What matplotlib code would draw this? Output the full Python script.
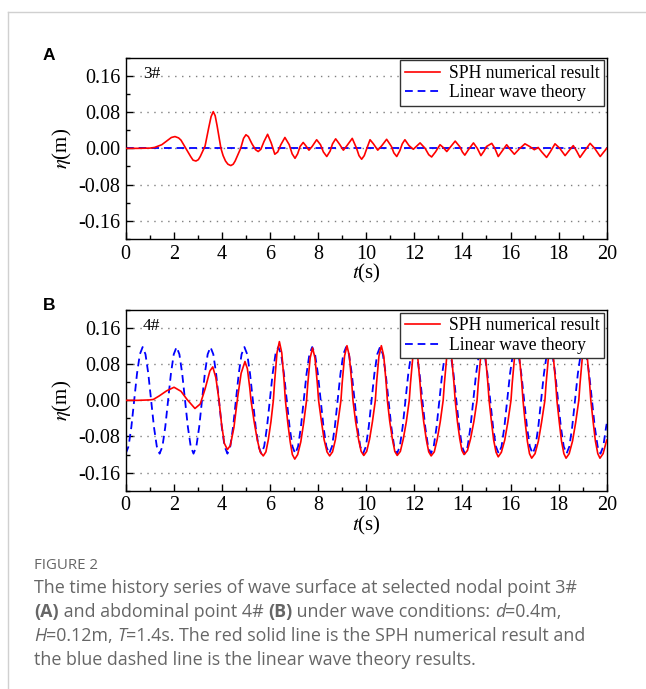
import matplotlib
matplotlib.use("Agg")
import matplotlib.pyplot as plt
from matplotlib.font_manager import FontProperties
from matplotlib.lines import Line2D

plt.rcParams['font.family'] = 'Liberation Serif'
plt.rcParams['mathtext.fontset'] = 'stix'

W, H = 646, 689

# ---- panel A: nodal point 3# ----
sph3_t = [0.0, 0.5, 1.0, 1.2, 1.5, 1.75, 1.9, 2.05, 2.2, 2.3, 2.5, 2.7, 2.8,
          2.92, 3.02, 3.1, 3.3, 3.45, 3.55, 3.64, 3.72, 3.8, 3.96, 4.05, 4.15, 4.25,
          4.37, 4.47, 4.55, 4.65,
          4.78, 4.9, 5.0, 5.1, 5.25, 5.4, 5.51, 5.62, 5.75, 5.9,
          6.05, 6.2, 6.32, 6.45, 6.62, 6.8, 6.92, 7.04, 7.15, 7.25,
          7.38, 7.5, 7.62, 7.75, 7.94, 8.1, 8.22, 8.36, 8.5, 8.6,
          8.73, 8.88, 9.05, 9.2, 9.42, 9.6, 9.7, 9.81, 9.92, 10.0,
          10.16, 10.3, 10.48, 10.65, 10.85, 11.05, 11.15, 11.27, 11.4, 11.5,
          11.61, 11.78, 11.96, 12.1, 12.24, 12.45, 12.6, 12.72, 12.88, 13.07,
          13.2, 13.35, 13.5, 13.7, 13.9, 14.0, 14.1, 14.25, 14.46, 14.62,
          14.77, 14.9, 15.0, 15.22, 15.35, 15.49, 15.65, 15.84, 16.0, 16.16,
          16.35, 16.6, 16.8, 16.99, 17.15, 17.3, 17.5, 17.65, 17.85, 18.05,
          18.27, 18.45, 18.61, 18.75, 18.89, 19.05, 19.31, 19.5, 19.73, 19.85,
          20.0]
sph3_eta = [0.0, 0.0, 0.0005, 0.002, 0.008, 0.018, 0.024, 0.026, 0.023, 0.018, 0.0, -0.018, -0.026,
            -0.028, -0.025, -0.018, 0.005, 0.045, 0.07, 0.081, 0.072, 0.05, 0.0, -0.016, -0.028, -0.035,
            -0.038, -0.035, -0.028, -0.016,
            0.0, 0.022, 0.03, 0.026, 0.01, -0.003, -0.007, -0.002, 0.015, 0.031,
            0.012, -0.013, -0.008, 0.008, 0.024, 0.008, -0.012, -0.022, -0.012, 0.004,
            0.013, 0.005, -0.004, 0.004, 0.019, 0.008, -0.008, -0.018, -0.006, 0.01,
            0.021, 0.01, -0.004, 0.006, 0.022, 0.0, -0.016, -0.024, -0.016, -0.004,
            0.019, 0.01, -0.004, 0.006, 0.02, 0.004, -0.01, -0.018, -0.005, 0.01,
            0.019, 0.006, -0.002, 0.005, 0.012, 0.0, -0.014, -0.019, -0.008, 0.008,
            0.002, -0.007, 0.003, 0.016, 0.003, -0.008, -0.015, -0.003, 0.012, 0.0,
            -0.016, -0.006, 0.004, 0.011, 0.0, -0.018, -0.006, 0.008, -0.003, -0.013,
            -0.002, 0.01, 0.004, -0.003, 0.002, -0.008, -0.02, -0.008, 0.01, 0.0,
            -0.016, -0.004, 0.006, -0.006, -0.02, -0.008, 0.011, 0.0, -0.018, -0.01,
            0.0]
lin3_t = [0.0, 20.0]
lin3_eta = [0.0, 0.0]

# ---- panel B: abdominal point 4# ----
sph4_t = [0.0, 0.5, 1.0, 1.15, 1.4, 1.7, 2.01, 2.3, 2.55, 2.88,
          3.1, 3.3, 3.5, 3.62, 3.75, 3.88, 3.98, 4.1, 4.23, 4.35,
          4.5, 4.65, 4.8, 4.96, 5.06, 5.16, 5.21, 5.34, 5.47, 5.59,
          5.72, 5.83, 5.93, 6.04, 6.14, 6.19, 6.29, 6.39, 6.49, 6.59,
          6.64, 6.74, 6.84, 6.93, 7.03, 7.15, 7.28, 7.40, 7.52, 7.57,
          7.67, 7.77, 7.87, 7.97, 8.02, 8.14, 8.25, 8.37, 8.48, 8.60,
          8.72, 8.83, 8.95, 9.00, 9.10, 9.20, 9.30, 9.40, 9.45, 9.56,
          9.68, 9.79, 9.90, 10.02, 10.14, 10.26, 10.38, 10.43, 10.53, 10.63,
          10.73, 10.83, 10.88, 10.98, 11.09, 11.19, 11.29, 11.42, 11.54, 11.67,
          11.79, 11.84, 11.94, 12.04, 12.14, 12.24, 12.29, 12.39, 12.50, 12.60,
          12.70, 12.83, 12.95, 13.08, 13.20, 13.25, 13.35, 13.45, 13.55, 13.65,
          13.70, 13.79, 13.89, 13.98, 14.07, 14.21, 14.34, 14.48, 14.61, 14.66,
          14.76, 14.86, 14.96, 15.06, 15.11, 15.21, 15.30, 15.40, 15.49, 15.62,
          15.76, 15.89, 16.02, 16.07, 16.17, 16.27, 16.37, 16.47, 16.52, 16.61,
          16.70, 16.79, 16.88, 17.02, 17.16, 17.29, 17.43, 17.48, 17.58, 17.68,
          17.78, 17.88, 17.93, 18.03, 18.12, 18.22, 18.31, 18.44, 18.58, 18.71,
          18.84, 18.89, 18.99, 19.09, 19.19, 19.29, 19.34, 19.44, 19.53, 19.63,
          19.72, 19.85, 20.0]
sph4_eta = [0.0, 0.0, 0.001, 0.002, 0.01, 0.021, 0.029, 0.02, 0.002, -0.018,
            -0.008, 0.025, 0.065, 0.074, 0.05, 0.0, -0.05, -0.095, -0.109, -0.1,
            -0.06, 0.005, 0.06, 0.086, 0.07, 0.027, 0.0, -0.047, -0.087, -0.114,
            -0.123, -0.114, -0.087, -0.047, 0.0, 0.04, 0.105, 0.13, 0.105, 0.04,
            0.0, -0.05, -0.092, -0.12, -0.13, -0.12, -0.092, -0.05, 0.0, 0.036,
            0.094, 0.116, 0.094, 0.036, 0.0, -0.047, -0.087, -0.114, -0.123, -0.114,
            -0.087, -0.047, 0.0, 0.038, 0.098, 0.121, 0.098, 0.038, 0.0, -0.047,
            -0.086, -0.113, -0.122, -0.113, -0.086, -0.047, 0.0, 0.038, 0.098, 0.121,
            0.098, 0.038, 0.0, -0.047, -0.086, -0.113, -0.122, -0.113, -0.086, -0.047,
            0.0, 0.037, 0.097, 0.12, 0.097, 0.037, 0.0, -0.047, -0.087, -0.114,
            -0.123, -0.114, -0.087, -0.047, 0.0, 0.037, 0.097, 0.12, 0.097, 0.037,
            0.0, -0.046, -0.085, -0.111, -0.12, -0.111, -0.085, -0.046, 0.0, 0.037,
            0.097, 0.12, 0.097, 0.037, 0.0, -0.048, -0.088, -0.115, -0.125, -0.115,
            -0.088, -0.048, 0.0, 0.037, 0.097, 0.12, 0.097, 0.037, 0.0, -0.049,
            -0.09, -0.118, -0.128, -0.118, -0.09, -0.049, 0.0, 0.037, 0.097, 0.12,
            0.097, 0.037, 0.0, -0.049, -0.09, -0.118, -0.128, -0.118, -0.09, -0.049,
            0.0, 0.037, 0.097, 0.12, 0.097, 0.037, 0.0, -0.049, -0.09, -0.118,
            -0.128, -0.118, -0.088]

lin4_t = [0.0, 0.118, 0.235, 0.353, 0.47, 0.588, 0.705, 0.823, 0.94, 1.058, 1.175, 1.293,
          1.41, 1.528, 1.645, 1.763, 1.88, 1.998, 2.115, 2.233, 2.35, 2.468, 2.585, 2.703,
          2.82, 2.938, 3.055, 3.173, 3.29, 3.408, 3.525, 3.643, 3.76, 3.878, 3.995, 4.113,
          4.23, 4.348, 4.465, 4.583, 4.7, 4.818, 4.935, 5.053, 5.17, 5.288, 5.405, 5.523,
          5.64, 5.758, 5.875, 5.993, 6.11, 6.228, 6.345, 6.463, 6.58, 6.698, 6.815, 6.933,
          7.05, 7.168, 7.285, 7.403, 7.52, 7.638, 7.755, 7.873, 7.99, 8.108, 8.225, 8.343,
          8.46, 8.578, 8.695, 8.813, 8.93, 9.048, 9.165, 9.283, 9.4, 9.518, 9.635, 9.753,
          9.87, 9.988, 10.105, 10.223, 10.34, 10.458, 10.575, 10.693, 10.81, 10.928, 11.045, 11.163,
          11.28, 11.398, 11.515, 11.633, 11.75, 11.868, 11.985, 12.103, 12.22, 12.338, 12.455, 12.573,
          12.69, 12.808, 12.925, 13.043, 13.16, 13.278, 13.395, 13.513, 13.63, 13.748, 13.865, 13.983,
          14.1, 14.218, 14.335, 14.453, 14.57, 14.688, 14.805, 14.923, 15.04, 15.158, 15.275, 15.393,
          15.51, 15.628, 15.745, 15.863, 15.98, 16.098, 16.215, 16.333, 16.45, 16.568, 16.685, 16.803,
          16.92, 17.038, 17.155, 17.273, 17.39, 17.508, 17.625, 17.743, 17.86, 17.978, 18.095, 18.213,
          18.33, 18.448, 18.565, 18.683, 18.8, 18.918, 19.035, 19.153, 19.27, 19.388, 19.505, 19.623,
          19.74, 19.858, 19.975, 20.0]
lin4_eta = [-0.118, -0.102, -0.059, 0.0, 0.059, 0.102, 0.118, 0.102, 0.059, 0.0, -0.059, -0.102,
            -0.118, -0.102, -0.059, 0.0, 0.059, 0.102, 0.118, 0.102, 0.059, 0.0, -0.059, -0.102,
            -0.118, -0.102, -0.059, 0.0, 0.059, 0.102, 0.118, 0.102, 0.059, 0.0, -0.059, -0.102,
            -0.118, -0.102, -0.059, 0.0, 0.059, 0.102, 0.118, 0.102, 0.059, 0.0, -0.059, -0.102,
            -0.118, -0.102, -0.059, 0.0, 0.059, 0.102, 0.118, 0.102, 0.059, 0.0, -0.059, -0.102,
            -0.118, -0.102, -0.059, 0.0, 0.059, 0.102, 0.118, 0.102, 0.059, 0.0, -0.059, -0.102,
            -0.118, -0.102, -0.059, 0.0, 0.059, 0.102, 0.118, 0.102, 0.059, 0.0, -0.059, -0.102,
            -0.118, -0.102, -0.059, 0.0, 0.059, 0.102, 0.118, 0.102, 0.059, 0.0, -0.059, -0.102,
            -0.118, -0.102, -0.059, 0.0, 0.059, 0.102, 0.118, 0.102, 0.059, 0.0, -0.059, -0.102,
            -0.118, -0.102, -0.059, 0.0, 0.059, 0.102, 0.118, 0.102, 0.059, 0.0, -0.059, -0.102,
            -0.118, -0.102, -0.059, 0.0, 0.059, 0.102, 0.118, 0.102, 0.059, 0.0, -0.059, -0.102,
            -0.118, -0.102, -0.059, 0.0, 0.059, 0.102, 0.118, 0.102, 0.059, 0.0, -0.059, -0.102,
            -0.118, -0.102, -0.059, 0.0, 0.059, 0.102, 0.118, 0.102, 0.059, 0.0, -0.059, -0.102,
            -0.118, -0.102, -0.059, 0.0, 0.059, 0.102, 0.118, 0.102, 0.059, 0.0, -0.059, -0.102,
            -0.118, -0.102, -0.059, -0.052]

x_major = [0, 2, 4, 6, 8, 10, 12, 14, 16, 18, 20]
x_minor = [1, 3, 5, 7, 9, 11, 13, 15, 17, 19]
y_major = [-0.16, -0.08, 0.0, 0.08, 0.16]
y_labels = ['-0.16', '-0.08', '0.00', '0.08', '0.16']
y_minor = [-0.2, -0.12, -0.04, 0.04, 0.12, 0.2]

series_names = ['SPH numerical result', 'Linear wave theory']

caption_title = 'FIGURE 2'
caption_lines = [
    [('The time history series of wave surface at selected nodal point 3#', 'normal', 'normal')],
    [('(A)', 'bold', 'normal'), (' and abdominal point 4# ', 'normal', 'normal'),
     ('(B)', 'bold', 'normal'), (' under wave conditions: ', 'normal', 'normal'),
     ('d', 'normal', 'italic'), ('=0.4m,', 'normal', 'normal')],
    [('H', 'normal', 'italic'), ('=0.12m, ', 'normal', 'normal'), ('T', 'normal', 'italic'),
     ('=1.4s. The red solid line is the SPH numerical result and', 'normal', 'normal')],
    [('the blue dashed line is the linear wave theory results.', 'normal', 'normal')],
]

fig = plt.figure(figsize=(W / 100, H / 100), dpi=100)


def add_ax(left, top, right, bottom):
    return fig.add_axes([left / W, 1 - bottom / H, (right - left) / W, (bottom - top) / H])


def draw_panel(ax, t_sph, eta_sph, t_lin, eta_lin, tag):
    ax.plot(t_sph, eta_sph, color='#ff0000', lw=1.2, label=series_names[0], zorder=3)
    ax.plot(t_lin, eta_lin, color='#0000ff', lw=1.3, dashes=(4.3, 2.7),
            label=series_names[1], zorder=2)
    ax.set_xlim(0, 20)
    ax.set_ylim(-0.2, 0.2)
    ax.set_xticks(x_major)
    ax.set_xticks(x_minor, minor=True)
    ax.set_yticks(y_major)
    ax.set_yticklabels(y_labels)
    ax.set_yticks(y_minor, minor=True)
    ax.tick_params(which='both', direction='in', top=False, right=False,
                   labelsize=14.5, width=1, pad=4)
    ax.tick_params(which='major', length=5)
    ax.tick_params(which='minor', length=3)
    for sp in ax.spines.values():
        sp.set_linewidth(1.0)
    ax.grid(axis='y', which='major', linestyle=(0, (1, 4)), color='#7f7f7f', lw=1.0)
    ax.set_axisbelow(True)
    ax.set_ylabel(r'$\eta$(m)', fontsize=15, labelpad=3)
    ax.set_xlabel(r'$t$(s)', fontsize=15, labelpad=-1)
    ax.text(0.72, 0.165, tag, fontsize=12.5, ha='left', va='center',
            bbox=dict(facecolor='white', edgecolor='none', pad=0.5), zorder=4)
    leg = ax.legend(loc='upper right', fontsize=12.7, frameon=True, fancybox=False,
                    edgecolor='#333333', framealpha=1, borderaxespad=0.15,
                    handlelength=2.0, handletextpad=0.5, labelspacing=0.15, borderpad=0.25)
    leg.get_frame().set_linewidth(1.0)


axA = add_ax(125.7, 57.7, 606.7, 239.0)
draw_panel(axA, sph3_t, sph3_eta, lin3_t, lin3_eta, '3#')
axB = add_ax(125.7, 310.0, 606.7, 490.7)
draw_panel(axB, sph4_t, sph4_eta, lin4_t, lin4_eta, '4#')

# panel letters
fig.text(43 / W, 1 - 55 / H, 'A', family='Liberation Sans', weight='bold', fontsize=12.5,
         ha='left', va='center')
fig.text(43 / W, 1 - 306 / H, 'B', family='Liberation Sans', weight='bold', fontsize=12.5,
         ha='left', va='center')

# light frame of the figure box
fig.add_artist(Line2D([8 / W, 1.0], [1 - 12 / H, 1 - 12 / H], color='#d0d0d0', lw=1.0))
fig.add_artist(Line2D([8 / W, 8 / W], [0.0, 1 - 12 / H], color='#d0d0d0', lw=1.0))

# caption
renderer = fig.canvas.get_renderer()
cap_color = '#666666'
cap_size = 12.9
fig.text(34 / W, 1 - 569 / H, caption_title, family='Open Sans', fontsize=10.8,
         color=cap_color, ha='left', va='baseline')


def text_width(s, fp):
    w1 = renderer.get_text_width_height_descent(s + '|', fp, ismath=False)[0]
    w0 = renderer.get_text_width_height_descent('|', fp, ismath=False)[0]
    return w1 - w0


y = 593
for line in caption_lines:
    x = 34
    for txt, weight, style in line:
        fp = FontProperties(family='Open Sans', size=cap_size, weight=weight, style=style)
        fig.text(x / W, 1 - y / H, txt, fontproperties=fp, color=cap_color,
                 ha='left', va='baseline')
        x += text_width(txt, fp)
    y += 24

fig.savefig('out.png', dpi=100)
